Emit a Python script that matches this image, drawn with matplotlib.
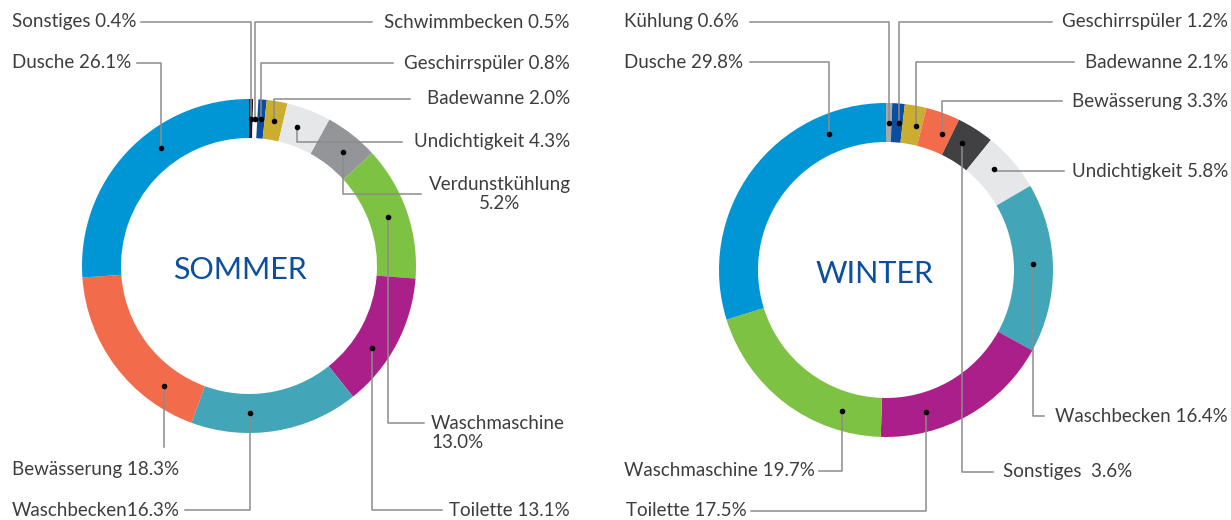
import matplotlib.pyplot as plt
import numpy as np

plt.rcParams['font.family'] = ['Lato', 'DejaVu Sans']

# Sommer
s_names = ['Sonstiges', 'Schwimmbecken', 'Geschirrspüler', 'Badewanne', 'Undichtigkeit',
           'Verdunstkühlung', 'Waschmaschine', 'Toilette', 'Waschbecken', 'Bewässerung', 'Dusche']
s_values = [0.4, 0.5, 0.8, 2.0, 4.3, 5.2, 13.0, 13.1, 16.3, 18.3, 26.1]
s_colors = ['#1a1a1a', '#ffffff', '#0a4ea2', '#cbae2f', '#e6e7e8', '#939598',
            '#7dc243', '#aa1f8a', '#42a6b8', '#f26b4b', '#0096d6']

# Winter
w_names = ['Kühlung', 'Geschirrspüler', 'Badewanne', 'Bewässerung', 'Sonstiges',
           'Undichtigkeit', 'Waschbecken', 'Toilette', 'Waschmaschine', 'Dusche']
w_values = [0.6, 1.2, 2.1, 3.3, 3.6, 5.8, 16.4, 17.5, 19.7, 29.8]
w_colors = ['#a7a9ac', '#0a4ea2', '#cbae2f', '#f26b4b', '#414042',
            '#e6e7e8', '#42a6b8', '#aa1f8a', '#7dc243', '#0096d6']

# label layout: separator, position inside wedge, leader y, leader end x, text x, text y, ha
s_layout = [(' ', 0.5, 22, 141, 12, 22, 'left'),
            (' ', 0.5, 22, 372, 570, 22, 'right'),
            (' ', 0.5, 63, 393, 570, 63, 'right'),
            (' ', 0.5, 99, 410, 570, 99, 'right'),
            (' ', 0.37, 142, 402, 570, 142, 'right'),
            ('\n', 0.58, 194, 421, 500, 194, 'center'),
            ('\n', 0.49, 423, 424, 431, 433, 'left'),
            (' ', 0.62, 510, 442, 570, 510, 'right'),
            ('', 0.65, 510, 185, 12, 510, 'left'),
            (' ', 0.23, 447, None, 12, 470, 'left'),
            (' ', 0.61, 63, 137, 12, 63, 'left')]
w_layout = [(' ', 0.56, 22, 750, 624, 22, 'left'),
            (' ', 0.7, 22, 1052, 1228, 22, 'right'),
            (' ', 0.7, 62, 1074, 1228, 62, 'right'),
            (' ', 0.7, 101, 1062, 1228, 101, 'right'),
            ('  ', 0.38, 472, 993, 1003, 472, 'left'),
            (' ', 0.38, 171, 1064, 1228, 171, 'right'),
            (' ', 0.47, 416, 1044, 1228, 416, 'right'),
            (' ', 0.72, 511, 751, 626, 511, 'left'),
            (' ', 0.22, 471, 819, 624, 471, 'left'),
            (' ', 0.79, 62, 750, 624, 62, 'left')]

R = 167
W = 39
TXT = '#3d3d3d'
LINE = '#8c8c8c'

fig = plt.figure(figsize=(12.31, 5.2), dpi=100)
ax = fig.add_axes([0, 0, 1, 1])


def donut(cx, cy, names, values, colors, layout, title, tx):
    # y axis is inverted, so counterclock in data means clockwise on screen
    ax.pie(values, colors=colors, startangle=-90, counterclock=True, radius=R,
           center=(cx, cy), wedgeprops=dict(width=W, linewidth=0))
    ax.text(tx, cy + 4, title, color='#0c4f9e', fontsize=22, ha='center', va='center')
    cum = np.concatenate([[0], np.cumsum(values)])
    rm = R - W / 2
    for i, (name, v) in enumerate(zip(names, values)):
        sep, f, ly, lx, x, y, ha = layout[i]
        th = np.radians(360 * (cum[i] + f * v) / 100)
        px = cx + rm * np.sin(th)
        py = cy - rm * np.cos(th)
        xs = [px, px]
        ys = [py, ly]
        if lx is not None:
            xs.append(lx)
            ys.append(ly)
        ax.plot(xs, ys, color=LINE, lw=1.1, zorder=3)
        ax.plot(px, py, 'o', color='black', ms=3, zorder=4)
        ax.text(x, y, f'{name}{sep}{v:.1f}%', color=TXT, fontsize=13.5, ha=ha, va='center',
                multialignment=ha, linespacing=1.2)


donut(249, 266, s_names, s_values, s_colors, s_layout, 'SOMMER', 240)
donut(886, 270, w_names, w_values, w_colors, w_layout, 'WINTER', 875)

ax.set_xlim(0, 1231)
ax.set_ylim(520, 0)
ax.set_aspect('equal')
ax.axis('off')

fig.savefig('out.png', dpi=100)
